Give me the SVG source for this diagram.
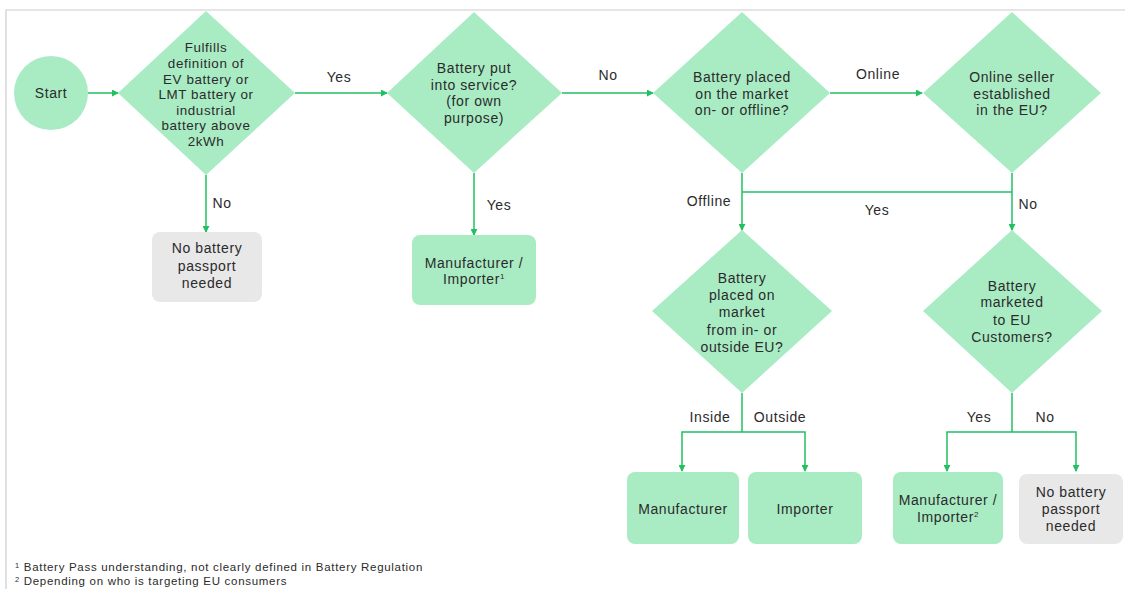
<svg xmlns="http://www.w3.org/2000/svg" width="1125" height="589" viewBox="0 0 1125 589">
  <style>
    .dia { fill: #a9ecc4; }
    .box { fill: #a9ecc4; }
    .gray { fill: #e8e8e8; }
    .t { font-family: "Liberation Sans", Arial, sans-serif; font-size: 14px; letter-spacing: 0.6px; fill: #2b2b2b; text-anchor: middle; }
    .t.sm { font-size: 13.4px; letter-spacing: 0.6px; }
    .lbl { font-family: "Liberation Sans", Arial, sans-serif; font-size: 14px; letter-spacing: 0.6px; fill: #2b2b2b; text-anchor: middle; }
    .fn { font-family: "Liberation Sans", Arial, sans-serif; font-size: 11.5px; letter-spacing: 0.7px; fill: #2b2b2b; }
    .edge { fill: none; stroke: #22c063; stroke-width: 1.5; }
    .frame { fill: none; stroke: #cccccc; stroke-width: 1.2; }
  </style>
  <defs>
    <marker id="arr" viewBox="0 0 8 8" refX="7" refY="4" markerWidth="7" markerHeight="7" markerUnits="userSpaceOnUse" orient="auto">
      <path d="M0 0 L8 4 L0 8 Z" fill="#22c063"/>
    </marker>
  </defs>

  <rect width="1125" height="589" fill="#ffffff"/>
  <path class="frame" d="M6 589 V10 H1125"/>

  <!-- connectors -->
  <g id="connectors">
    <path class="edge" d="M87 93 H118" marker-end="url(#arr)"/>
    <path class="edge" d="M295 93 H387" marker-end="url(#arr)"/>
    <path class="edge" d="M206 175 V232" marker-end="url(#arr)"/>
    <path class="edge" d="M474 173 V235" marker-end="url(#arr)"/>
    <path class="edge" d="M562 93 H653" marker-end="url(#arr)"/>
    <path class="edge" d="M830 93 H922" marker-end="url(#arr)"/>
    <path class="edge" d="M742 173 V230" marker-end="url(#arr)"/>
    <path class="edge" d="M1012 173 V230" marker-end="url(#arr)"/>
    <path class="edge" d="M1012 192 H742"/>
    <path class="edge" d="M742 393 V432"/>
    <path class="edge" d="M742 432 H682 V471" marker-end="url(#arr)"/>
    <path class="edge" d="M742 432 H805 V471" marker-end="url(#arr)"/>
    <path class="edge" d="M1012 393 V432"/>
    <path class="edge" d="M1012 432 H947 V471" marker-end="url(#arr)"/>
    <path class="edge" d="M1012 432 H1076 V471" marker-end="url(#arr)"/>

    <text class="lbl" x="339" y="82">Yes</text>
    <text class="lbl" x="222" y="208">No</text>
    <text class="lbl" x="499" y="210">Yes</text>
    <text class="lbl" x="608" y="80">No</text>
    <text class="lbl" x="878" y="79">Online</text>
    <text class="lbl" x="709" y="206">Offline</text>
    <text class="lbl" x="877" y="215">Yes</text>
    <text class="lbl" x="1028" y="209">No</text>
    <text class="lbl" x="710" y="422">Inside</text>
    <text class="lbl" x="780" y="422">Outside</text>
    <text class="lbl" x="979" y="422">Yes</text>
    <text class="lbl" x="1045" y="422">No</text>
  </g>

  <!-- start -->
  <g id="start">
    <circle class="dia" cx="51" cy="93" r="37"/>
    <text class="t" x="51" y="98">Start</text>
  </g>

  <!-- category check -->
  <g id="d-category">
    <polygon class="dia" points="206,11 295,93 206,175 118,93"/>
    <text class="t sm" x="206" y="52">Fulfills</text>
    <text class="t sm" x="206" y="68">definition of</text>
    <text class="t sm" x="206" y="83.5">EV battery or</text>
    <text class="t sm" x="206" y="99">LMT battery or</text>
    <text class="t sm" x="206" y="114.5">industrial</text>
    <text class="t sm" x="206" y="130">battery above</text>
    <text class="t sm" x="206" y="145.5">2kWh</text>
  </g>

  <g id="no-passport-1">
    <rect class="gray" x="152" y="232" width="110" height="70" rx="8"/>
    <text class="t" x="207" y="253">No battery</text>
    <text class="t" x="207" y="271">passport</text>
    <text class="t" x="207" y="288">needed</text>
  </g>

  <g id="d-service">
    <polygon class="dia" points="474,12 562,93 474,173 387,93"/>
    <text class="t" x="474" y="73">Battery put</text>
    <text class="t" x="474" y="90">into service?</text>
    <text class="t" x="474" y="106">(for own</text>
    <text class="t" x="474" y="123">purpose)</text>
  </g>

  <g id="mfr-importer-1">
    <rect class="box" x="412" y="235" width="124" height="70" rx="8"/>
    <text class="t" x="474" y="268">Manufacturer /</text>
    <text class="t" x="474" y="284">Importer<tspan font-size="8" dy="-5">1</tspan></text>
  </g>

  <g id="d-channel">
    <polygon class="dia" points="742,12 830,93 742,173 653,93"/>
    <text class="t" x="742" y="82">Battery placed</text>
    <text class="t" x="742" y="99">on the market</text>
    <text class="t" x="742" y="115">on- or offline?</text>
  </g>

  <g id="d-online-eu">
    <polygon class="dia" points="1012,12 1101,93 1012,173 923,93"/>
    <text class="t" x="1012" y="82">Online seller</text>
    <text class="t" x="1012" y="99">established</text>
    <text class="t" x="1012" y="115">in the EU?</text>
  </g>

  <g id="d-origin">
    <polygon class="dia" points="742,230 832,311 742,393 652,311"/>
    <text class="t" x="742" y="283">Battery</text>
    <text class="t" x="742" y="300">placed on</text>
    <text class="t" x="742" y="317">market</text>
    <text class="t" x="742" y="335">from in- or</text>
    <text class="t" x="742" y="352">outside EU?</text>
  </g>

  <g id="d-eu-customers">
    <polygon class="dia" points="1012,230 1102,311 1012,393 923,311"/>
    <text class="t" x="1012" y="291">Battery</text>
    <text class="t" x="1012" y="307">marketed</text>
    <text class="t" x="1012" y="325">to EU</text>
    <text class="t" x="1012" y="342">Customers?</text>
  </g>

  <g id="manufacturer">
    <rect class="box" x="627" y="472" width="112" height="72" rx="8"/>
    <text class="t" x="683" y="514">Manufacturer</text>
  </g>

  <g id="importer">
    <rect class="box" x="748" y="472" width="114" height="72" rx="8"/>
    <text class="t" x="805" y="514">Importer</text>
  </g>

  <g id="mfr-importer-2">
    <rect class="box" x="893" y="472" width="110" height="72" rx="8"/>
    <text class="t" x="948" y="505">Manufacturer /</text>
    <text class="t" x="948" y="522">Importer<tspan font-size="8" dy="-5">2</tspan></text>
  </g>

  <g id="no-passport-2">
    <rect class="gray" x="1019" y="474" width="104" height="70" rx="8"/>
    <text class="t" x="1071" y="497">No battery</text>
    <text class="t" x="1071" y="514">passport</text>
    <text class="t" x="1071" y="531">needed</text>
  </g>

  <!-- footnotes -->
  <g id="footnotes">
    <text class="fn" x="15" y="571"><tspan font-size="7.5" dy="-3">1</tspan><tspan dy="3"> Battery Pass understanding, not clearly defined in Battery Regulation</tspan></text>
    <text class="fn" x="15" y="585"><tspan font-size="7.5" dy="-3">2</tspan><tspan dy="3"> Depending on who is targeting EU consumers</tspan></text>
  </g>
</svg>
